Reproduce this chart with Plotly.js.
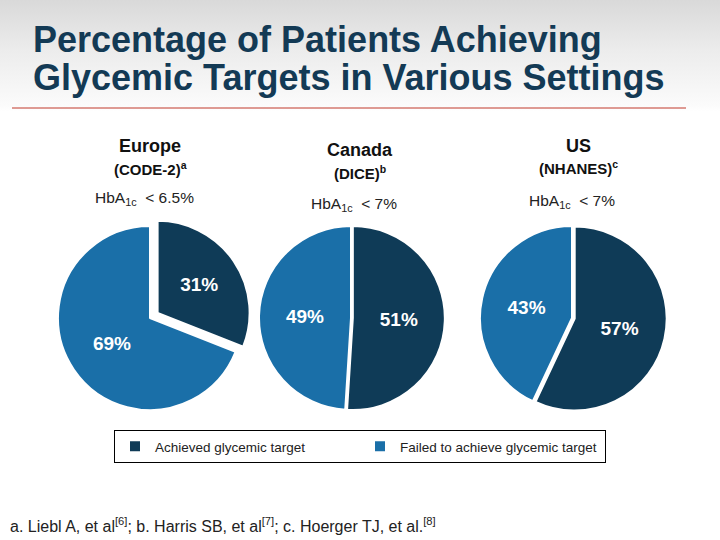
<!DOCTYPE html>
<html>
<head>
<meta charset="utf-8">
<script src="https://cdn.plot.ly/plotly-3.0.1.min.js"></script>
<style>
html,body{margin:0;padding:0;}
body{width:720px;height:540px;background:linear-gradient(to bottom,#d9d9d9 0px,#ececec 50px,#fbfbfb 105px,#ffffff 112px,#ffffff 540px);}
#chart{width:720px;height:540px;}
</style>
</head>
<body>
<div id="chart"></div>
<script>
const categories = ["Achieved glycemic target", "Failed to achieve glycemic target"];
const regions = ["Europe", "Canada", "US"];
const studies = ["(CODE-2)<sup>a</sup>", "(DICE)<sup>b</sup>", "(NHANES)<sup>c</sup>"];
const targets = ["HbA<sub>1c</sub>  < 6.5%", "HbA<sub>1c</sub>  < 7%", "HbA<sub>1c</sub>  < 7%"];
const achieved = [31, 51, 57];
const failed = [69, 49, 43];
const pulls = [[0.1, 0], [0.02, 0], [0.03, 0]];
const titleLines = ["Percentage of Patients Achieving", "Glycemic Targets in Various Settings"];
const footnote = "a. Liebl A, et al<sup>[6]</sup>; b. Harris SB, et al<sup>[7]</sup>; c. Hoerger TJ, et al.<sup>[8]</sup>";

const colors = ["#0f3b57", "#1a6fa8"];
const W = 720, H = 540;
const centers = [[150, 318, 92], [351, 318, 92], [572, 318, 92]];
const FONT = "Liberation Sans, Arial, sans-serif";

const data = regions.map((r, i) => {
  const [cx, cy, rad] = centers[i];
  const maxPull = Math.max(...pulls[i]);
  const half = rad * (1 + maxPull);
  return {
    type: "pie",
    name: r,
    labels: categories,
    values: [achieved[i], failed[i]],
    sort: false,
    direction: "clockwise",
    rotation: 0,
    pull: pulls[i],
    marker: {colors: colors, line: {color: "#ffffff", width: 2}},
    textinfo: "percent",
    texttemplate: "%{value}%",
    textposition: "inside",
    insidetextorientation: "horizontal",
    textfont: {family: FONT, size: 19, color: "#ffffff", weight: "bold"},
    hoverinfo: "label+value",
    showlegend: i === 0,
    domain: {x: [(cx - half) / W, (cx + half) / W], y: [(H - cy - half) / H, (H - cy + half) / H]}
  };
});

const ann = [];
const hx = [150, 360, 578];
const hy = [[146, 168, 198], [150, 172, 204], [146, 167, 202]];
regions.forEach((r, i) => {
  ann.push({text: "<b>" + r + "</b>", x: hx[i] / W, y: 1 - hy[i][0] / H, xref: "paper", yref: "paper", showarrow: false, xanchor: "center", yanchor: "middle", font: {size: 18, color: "#111111"}});
  ann.push({text: "<b>" + studies[i] + "</b>", x: hx[i] / W, y: 1 - hy[i][1] / H, xref: "paper", yref: "paper", showarrow: false, xanchor: "center", yanchor: "middle", font: {size: 15, color: "#111111"}});
  ann.push({text: targets[i], x: (hx[i] - 6) / W, y: 1 - hy[i][2] / H, xref: "paper", yref: "paper", showarrow: false, xanchor: "center", yanchor: "middle", font: {size: 15.5, color: "#222222"}});
});
ann.push({text: "<b>" + titleLines[1] + "</b>", x: 31 / W, y: 1 - 77 / H, xref: "paper", yref: "paper", showarrow: false, xanchor: "left", yanchor: "middle", font: {family: FONT, size: 36, color: "#133a55"}});
ann.push({text: footnote, x: 8 / W, y: 1 - 525 / H, xref: "paper", yref: "paper", showarrow: false, xanchor: "left", yanchor: "middle", font: {size: 16, color: "#222222"}});

const layout = {
  width: W, height: H,
  margin: {l: 0, r: 0, t: 0, b: 0},
  paper_bgcolor: "rgba(0,0,0,0)",
  plot_bgcolor: "rgba(0,0,0,0)",
  font: {family: FONT},
  title: {
    text: "<b>" + titleLines[0] + "</b>",
    x: 33 / W, xanchor: "left", xref: "paper",
    y: 1 - 39 / H, yanchor: "middle", yref: "paper",
    font: {family: FONT, size: 36, color: "#133a55"}
  },
  shapes: [
    {type: "line", xref: "paper", yref: "paper", x0: 12 / W, x1: 686 / W, y0: 1 - 108 / H, y1: 1 - 108 / H, line: {color: "#c0392b", width: 1}}
  ],
  annotations: ann,
  showlegend: true,
  legend: {
    orientation: "h", x: 360 / W, xanchor: "center", y: 1 - 430 / H, yanchor: "top",
    bordercolor: "#000000", borderwidth: 1, bgcolor: "#ffffff",
    entrywidth: 200, itemwidth: 30,
    font: {size: 13.5, color: "#222222"}
  }
};

Plotly.newPlot("chart", data, layout, {displayModeBar: false, staticPlot: true});
</script>
</body>
</html>
